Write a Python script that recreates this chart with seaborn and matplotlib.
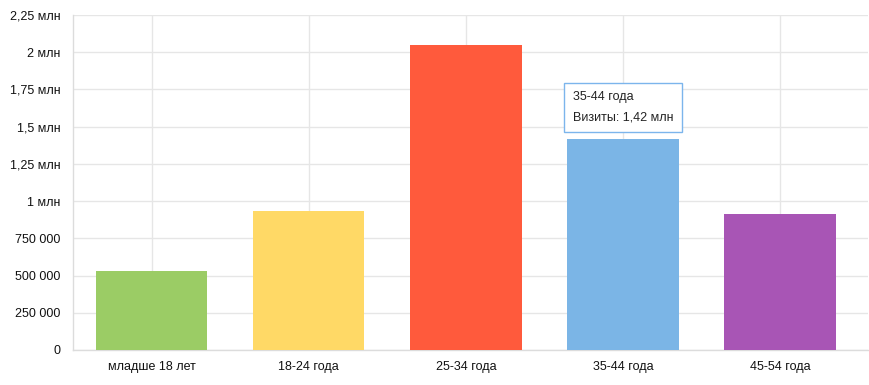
import pandas as pd
import matplotlib
matplotlib.use('Agg')
import matplotlib.pyplot as plt
import seaborn as sns
from matplotlib.ticker import FuncFormatter, MultipleLocator

# Visits by age group
categories = ['младше 18 лет', '18-24 года', '25-34 года', '35-44 года', '45-54 года']
visits = [530000, 935000, 2050000, 1420000, 910000]
colors = ['#9bcc65', '#ffd966', '#ff5a3c', '#7bb5e6', '#a855b5']
tooltip_idx = 3


def fmt_value(v, pos=None):
    if v >= 1e6:
        s = f'{v / 1e6:.2f}'.rstrip('0').rstrip('.')
        return s.replace('.', ',') + ' млн'
    if v == 0:
        return '0'
    return f'{int(v):,}'.replace(',', ' ')


def main():
    df = pd.DataFrame({'group': categories, 'visits': visits})

    sns.set_style('white')
    plt.rcParams['font.family'] = ['Liberation Sans', 'DejaVu Sans']

    fig = plt.figure(figsize=(8.69, 3.85), dpi=100)
    ax = fig.add_axes([0.084, 0.091, 0.915, 0.87])

    sns.barplot(data=df, x='group', y='visits', hue='group',
                palette=dict(zip(categories, colors)), width=0.71,
                saturation=1, legend=False, ax=ax, zorder=3,
                linewidth=0)

    ax.set_ylim(0, 2250000)
    ax.set_xlim(-0.5, 4.56)
    ax.yaxis.set_major_locator(MultipleLocator(250000))
    ax.yaxis.set_major_formatter(FuncFormatter(fmt_value))

    ax.grid(True, color='#e6e6e6', linewidth=1, zorder=0)
    ax.set_axisbelow(True)
    for side in ['top', 'right']:
        ax.spines[side].set_visible(False)
    for side in ['left', 'bottom']:
        ax.spines[side].set_color('#dcdcdc')
        ax.spines[side].set_linewidth(1)

    ax.tick_params(axis='both', length=0, labelsize=9, colors='#111111')
    ax.tick_params(axis='y', pad=9)
    ax.tick_params(axis='x', pad=8)
    ax.set_xlabel('')
    ax.set_ylabel('')

    # Tooltip over the highlighted bar
    label = f'{categories[tooltip_idx]}\nВизиты: {fmt_value(visits[tooltip_idx])}'
    ax.annotate(label, xy=(tooltip_idx, visits[tooltip_idx]),
                xytext=(-36, 11), textcoords='offset points',
                ha='left', va='bottom', fontsize=9, color='#222222',
                linespacing=1.9, zorder=5,
                bbox=dict(boxstyle='square,pad=0.68', facecolor='white',
                          edgecolor='#7cb5ec', linewidth=1))

    fig.savefig('out.png', dpi=100)


if __name__ == "__main__":
    main()
